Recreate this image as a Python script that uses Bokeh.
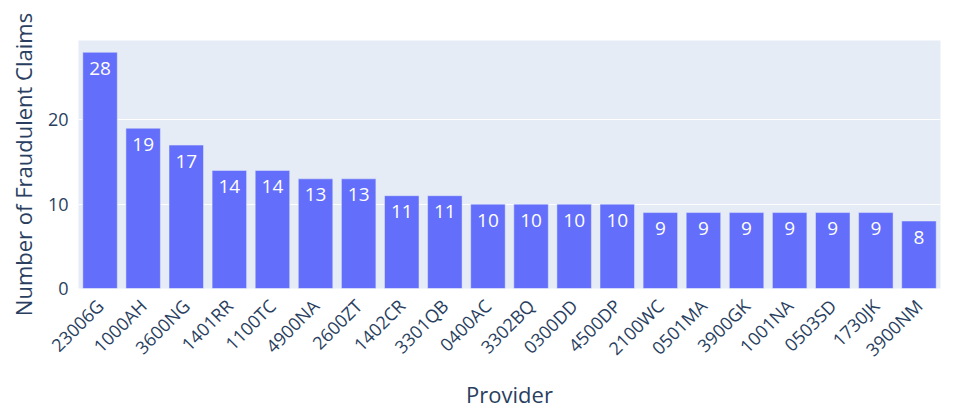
from bokeh.plotting import figure
from bokeh.models import ColumnDataSource, FactorRange, Range1d, FixedTicker
from bokeh.core.properties import value
from bokeh.embed import file_html
from bokeh.resources import INLINE
import math

providers = ["23006G", "1000AH", "3600NG", "1401RR", "1100TC", "4900NA", "2600ZT",
             "1402CR", "3301QB", "0400AC", "3302BQ", "0300DD", "4500DP", "2100WC",
             "0501MA", "3900GK", "1001NA", "0503SD", "1730JK", "3900NM"]
claims = [28, 19, 17, 14, 14, 13, 13, 11, 11, 10, 10, 10, 10, 9, 9, 9, 9, 9, 9, 8]
y_ticks = [0, 10, 20]

FONT = "Open Sans"
TXT = "#2a3f5f"

src = ColumnDataSource(dict(provider=providers, claims=claims,
                            label=[str(c) for c in claims]))

p = figure(width=976, height=411, output_backend="svg", toolbar_location=None,
           x_range=FactorRange(*providers, range_padding=0),
           y_range=Range1d(0, 29.4),
           min_border_left=78, min_border_right=36, min_border_top=40,
           min_border_bottom=121)

p.background_fill_color = "#E5ECF6"
p.border_fill_color = "white"
p.outline_line_color = None

p.vbar(x="provider", top="claims", width=0.8, source=src,
       fill_color="#636EFA", line_color="#E5ECF6", line_width=0.5)
p.text(x="provider", y="claims", text="label", source=src,
       text_align="center", text_baseline="middle", y_offset=16,
       text_color="white", text_font=value(FONT), text_font_size="19px")

p.xgrid.grid_line_color = None
p.ygrid.grid_line_color = "white"
p.ygrid.grid_line_width = 1
p.yaxis.ticker = FixedTicker(ticks=y_ticks)

for ax in (p.xaxis[0], p.yaxis[0]):
    ax.axis_line_color = None
    ax.major_tick_line_color = None
    ax.minor_tick_line_color = None
    ax.major_label_text_font = FONT
    ax.major_label_text_font_size = "18px"
    ax.major_label_text_color = TXT
    ax.axis_label_text_font = FONT
    ax.axis_label_text_font_size = "22px"
    ax.axis_label_text_font_style = "normal"
    ax.axis_label_text_color = TXT

p.xaxis.axis_label = "Provider"
p.yaxis.axis_label = "Number of Fraudulent Claims"
p.xaxis.major_label_orientation = math.pi / 4
p.xaxis.major_label_standoff = 8
p.yaxis.major_label_standoff = 4
p.yaxis.axis_label_standoff = 7
p.xaxis.axis_label_standoff = 6

open("out.html", "w").write(file_html(p, INLINE))
